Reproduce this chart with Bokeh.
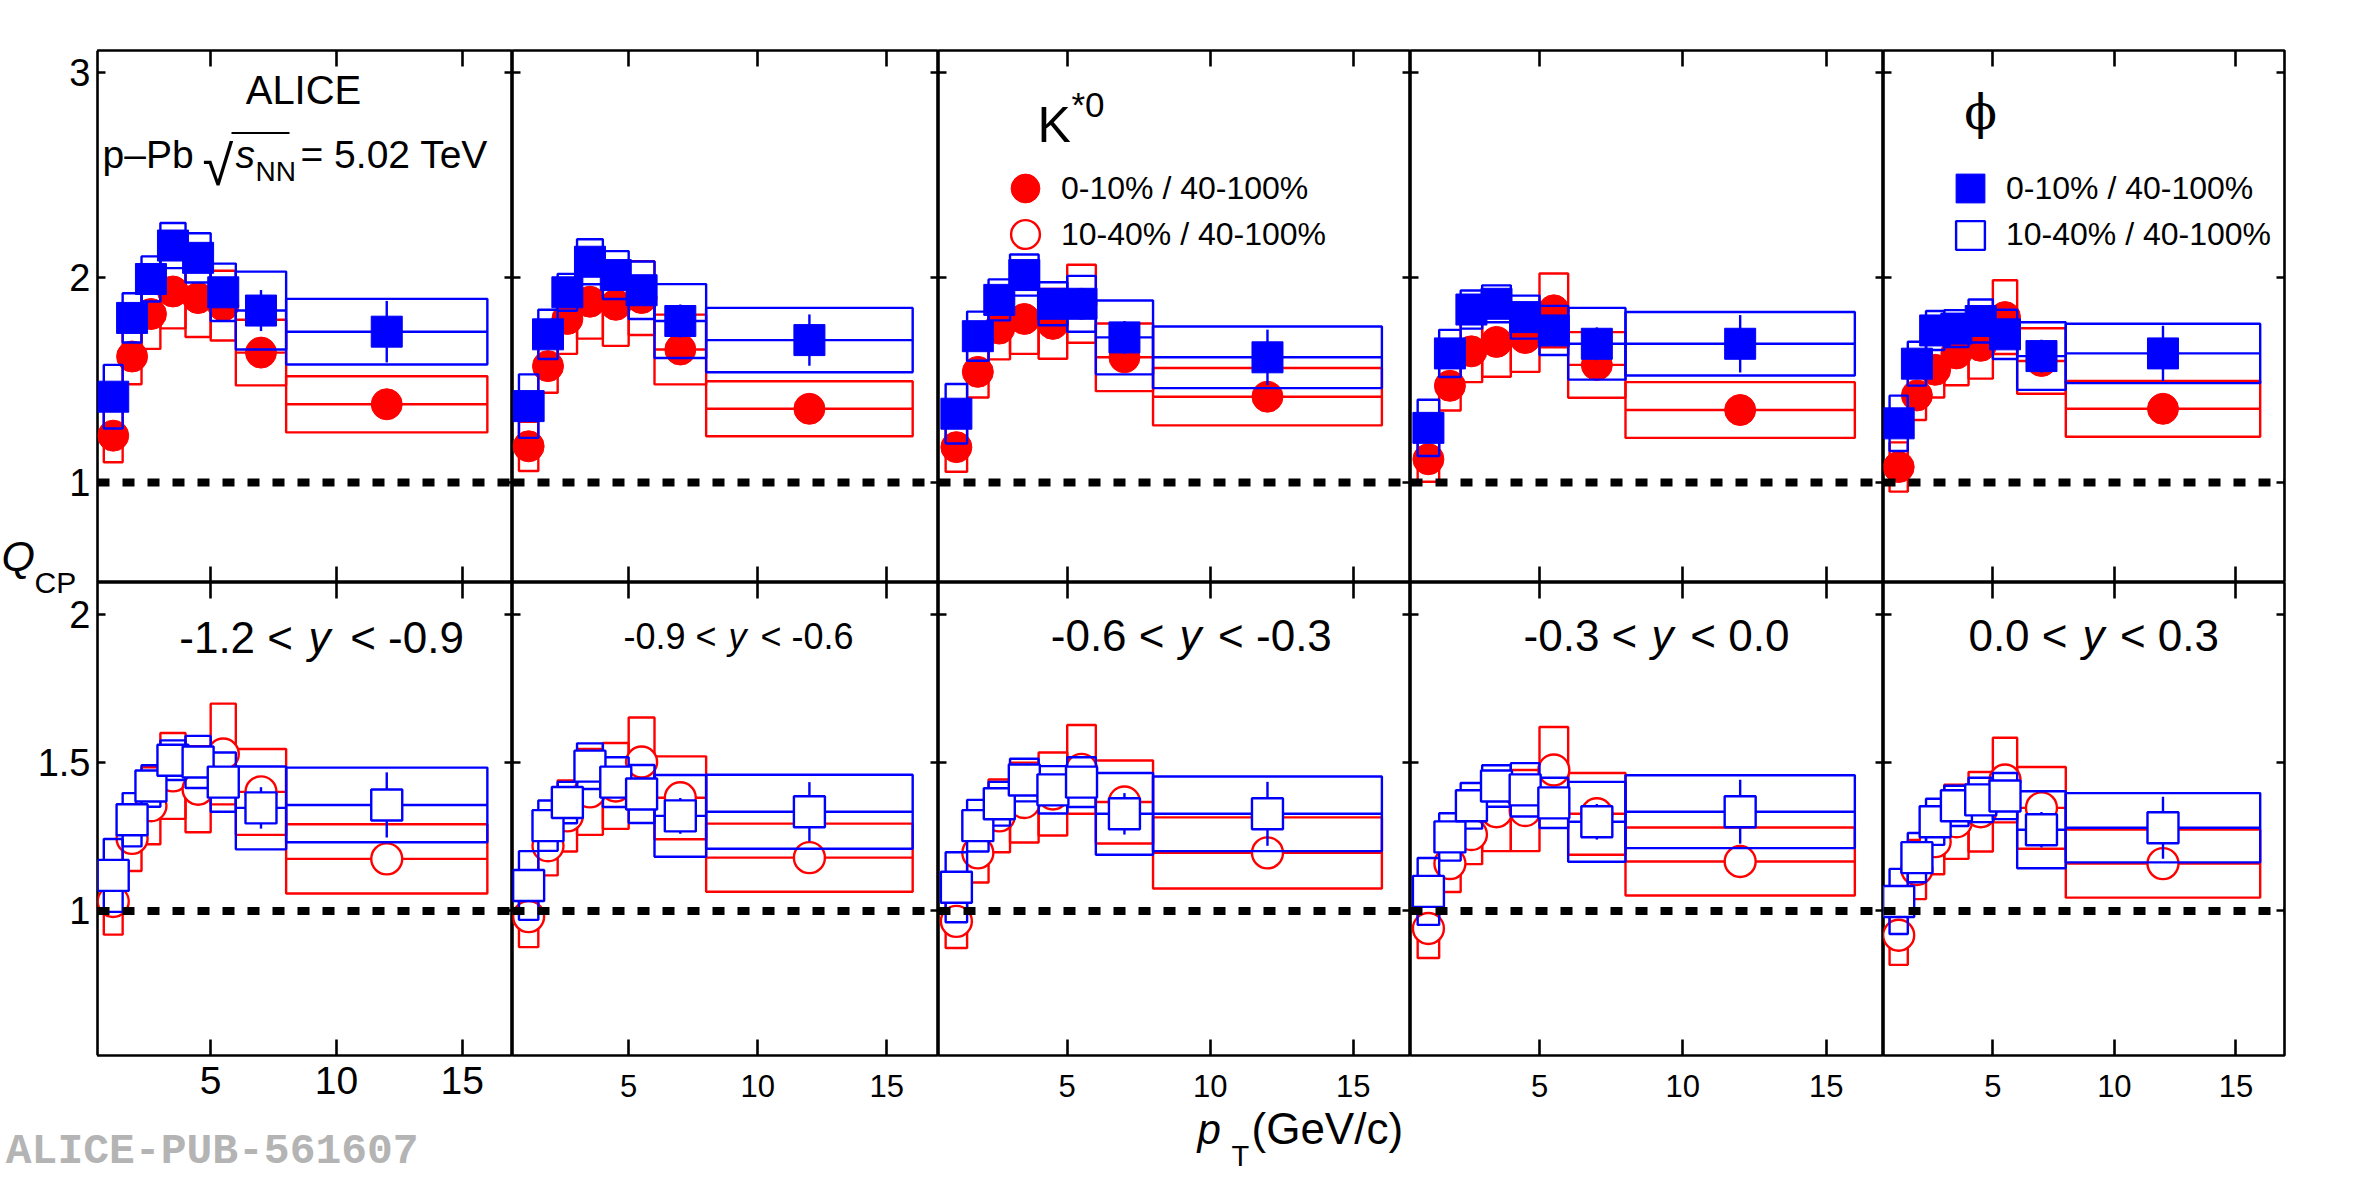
import numpy as np
from bokeh.plotting import figure
from bokeh.models import (ColumnDataSource, Range1d, LinearAxis, FixedTicker, Span, Label,
                          Legend, LegendItem, BoxAnnotation, CustomJSTickFormatter)
from bokeh.layouts import row, column
from bokeh.embed import file_html
from bokeh.resources import INLINE
from bokeh.core.properties import value

# ---------------- data ----------------
pt_center = [1.125, 1.875, 2.625, 3.5, 4.5, 5.5, 7.0, 12.0]
pt_halfwidth = [0.375, 0.375, 0.375, 0.5, 0.5, 0.5, 1.0, 4.0]

rapidity_low = ["-1.2", "-0.9", "-0.6", "-0.3", "0.0"]
rapidity_high = ["-0.9", "-0.6", "-0.3", "0.0", "0.3"]

x_ticks = [5, 10, 15]
y_ticks_top = [1, 2, 3]
y_ticks_bottom = [1, 1.5, 2]

# K*0, 0-10% / 40-100%
kstar_010_val = [
    [1.229, 1.615, 1.822, 1.932, 1.900, 1.863, 1.634, 1.382],
    [1.177, 1.568, 1.798, 1.882, 1.867, 1.900, 1.649, 1.360],
    [1.173, 1.540, 1.751, 1.798, 1.774, 1.872, 1.611, 1.419],
    [1.114, 1.472, 1.640, 1.686, 1.705, 1.840, 1.574, 1.354],
    [1.076, 1.425, 1.550, 1.630, 1.667, 1.807, 1.593, 1.360]]
kstar_010_sys = [
    [0.130, 0.135, 0.170, 0.180, 0.190, 0.170, 0.160, 0.137],
    [0.120, 0.130, 0.170, 0.180, 0.200, 0.180, 0.170, 0.134],
    [0.120, 0.125, 0.150, 0.170, 0.170, 0.190, 0.165, 0.140],
    [0.110, 0.120, 0.150, 0.170, 0.165, 0.180, 0.160, 0.136],
    [0.120, 0.120, 0.135, 0.155, 0.160, 0.180, 0.160, 0.136]]
kstar_010_stat = [
    [0.03, 0.03, 0.03, 0.03, 0.03, 0.04, 0.05, 0.06],
    [0.03, 0.03, 0.03, 0.03, 0.03, 0.04, 0.05, 0.06],
    [0.03, 0.03, 0.03, 0.03, 0.03, 0.04, 0.05, 0.06],
    [0.03, 0.03, 0.03, 0.03, 0.03, 0.04, 0.05, 0.06],
    [0.03, 0.03, 0.03, 0.03, 0.03, 0.04, 0.05, 0.06]]

# phi, 0-10% / 40-100%
phi_010_val = [
    [1.419, 1.803, 1.993, 2.156, 2.096, 1.928, 1.839, 1.736],
    [1.373, 1.723, 1.928, 2.077, 2.012, 1.938, 1.788, 1.695],
    [1.336, 1.714, 1.891, 2.012, 1.872, 1.872, 1.708, 1.611],
    [1.267, 1.630, 1.844, 1.872, 1.807, 1.742, 1.677, 1.677],
    [1.289, 1.580, 1.742, 1.751, 1.788, 1.723, 1.617, 1.630]]
phi_010_sys = [
    [0.155, 0.120, 0.110, 0.110, 0.120, 0.140, 0.190, 0.160],
    [0.155, 0.120, 0.090, 0.110, 0.117, 0.140, 0.180, 0.157],
    [0.145, 0.120, 0.100, 0.100, 0.105, 0.136, 0.180, 0.150],
    [0.137, 0.115, 0.093, 0.090, 0.105, 0.120, 0.175, 0.155],
    [0.135, 0.107, 0.095, 0.090, 0.105, 0.120, 0.165, 0.145]]
phi_010_stat = [
    [0.04, 0.03, 0.03, 0.03, 0.04, 0.05, 0.10, 0.150],
    [0.04, 0.03, 0.03, 0.03, 0.04, 0.05, 0.08, 0.125],
    [0.04, 0.03, 0.03, 0.03, 0.04, 0.05, 0.08, 0.135],
    [0.04, 0.03, 0.03, 0.03, 0.04, 0.05, 0.08, 0.140],
    [0.04, 0.03, 0.03, 0.03, 0.04, 0.05, 0.08, 0.135]]

# K*0, 10-40% / 40-100%
kstar_1040_val = [
    [1.032, 1.245, 1.355, 1.456, 1.411, 1.530, 1.402, 1.176],
    [0.981, 1.220, 1.321, 1.402, 1.422, 1.503, 1.382, 1.180],
    [0.965, 1.196, 1.321, 1.366, 1.395, 1.478, 1.368, 1.196],
    [0.941, 1.160, 1.258, 1.335, 1.339, 1.476, 1.328, 1.167],
    [0.918, 1.140, 1.234, 1.301, 1.335, 1.442, 1.348, 1.160]]
kstar_1040_sys = [
    [0.112, 0.110, 0.130, 0.145, 0.145, 0.170, 0.145, 0.117],
    [0.103, 0.100, 0.120, 0.145, 0.145, 0.150, 0.140, 0.115],
    [0.090, 0.100, 0.123, 0.135, 0.140, 0.150, 0.140, 0.120],
    [0.100, 0.096, 0.100, 0.133, 0.137, 0.145, 0.138, 0.115],
    [0.100, 0.100, 0.110, 0.125, 0.134, 0.143, 0.138, 0.115]]
kstar_1040_stat = [
    [0.02, 0.02, 0.02, 0.02, 0.025, 0.03, 0.04, 0.05],
    [0.02, 0.02, 0.02, 0.02, 0.025, 0.03, 0.04, 0.05],
    [0.02, 0.02, 0.02, 0.02, 0.025, 0.03, 0.04, 0.05],
    [0.02, 0.02, 0.02, 0.02, 0.025, 0.03, 0.04, 0.05],
    [0.02, 0.02, 0.02, 0.02, 0.025, 0.03, 0.04, 0.05]]

# phi, 10-40% / 40-100%
phi_1040_val = [
    [1.120, 1.308, 1.422, 1.509, 1.503, 1.435, 1.348, 1.358],
    [1.086, 1.288, 1.366, 1.489, 1.435, 1.395, 1.321, 1.335],
    [1.080, 1.288, 1.362, 1.442, 1.409, 1.435, 1.328, 1.328],
    [1.066, 1.250, 1.355, 1.422, 1.409, 1.365, 1.301, 1.335],
    [1.032, 1.180, 1.301, 1.355, 1.375, 1.388, 1.274, 1.281]]
phi_1040_sys = [
    [0.123, 0.090, 0.070, 0.067, 0.088, 0.100, 0.140, 0.126],
    [0.116, 0.085, 0.070, 0.077, 0.084, 0.098, 0.138, 0.125],
    [0.118, 0.087, 0.074, 0.072, 0.080, 0.084, 0.138, 0.126],
    [0.113, 0.080, 0.077, 0.070, 0.090, 0.085, 0.135, 0.123],
    [0.110, 0.083, 0.078, 0.068, 0.075, 0.078, 0.130, 0.117]]
phi_1040_stat = [
    [0.03, 0.025, 0.025, 0.03, 0.035, 0.045, 0.07, 0.110],
    [0.03, 0.025, 0.025, 0.03, 0.035, 0.045, 0.06, 0.100],
    [0.03, 0.025, 0.025, 0.03, 0.035, 0.045, 0.07, 0.108],
    [0.03, 0.025, 0.025, 0.03, 0.035, 0.045, 0.06, 0.108],
    [0.03, 0.025, 0.025, 0.03, 0.035, 0.045, 0.06, 0.105]]

# ---------------- geometry / style ----------------
FRAME_W = [415, 426, 472, 473, 401]
FRAME_H = [532, 473]
CARRIER_W = 97          # left strip holding the y tick labels and the Q_CP title
BORDER_R, BORDER_T, BORDER_B = 50, 50, 5
FOOT_H = 106            # strip under the panels: x tick labels, x title, tag
PAGE = 8
X_RANGE = (0.5, 17.0)
Y_RANGES = [(0.513, 3.107), (0.512, 2.109)]
RED = "#ff0000"
BLUE = "#0000ff"
FONT = "Liberation Sans"
LW = 2.4
MSIZE = 31
LEG_G = 72
TOTAL_W = CARRIER_W + sum(FRAME_W) + BORDER_R
# distance (in em) from the alphabetic baseline up to the middle of the em box
MID_K = {"Liberation Sans": 0.3465, "Liberation Mono": 0.2665, "DejaVu Serif": 0.346}


def col_left(c):
    return PAGE + CARRIER_W + sum(FRAME_W[:c])


def row_top(r):
    return PAGE + BORDER_T + sum(FRAME_H[:r])


def value_at(r, Y):
    y0, y1 = Y_RANGES[r]
    return y1 - (Y - row_top(r)) / FRAME_H[r] * (y1 - y0)


def xvalue_at(c, X):
    x0, x1 = X_RANGE
    return x0 + (X - col_left(c)) / FRAME_W[c] * (x1 - x0)


def mid_of(base, size, font):
    return base - MID_K[font] * size


def make_label(xd, yd, text, size, font=FONT, style="normal", align="left", color="black"):
    return Label(x=xd, y=yd, text=text, text_font=font, text_font_size=f"{size}px",
                 text_font_style=style, text_align=align, text_baseline="middle",
                 text_color=color)


def add_text(p, r, c, X, base, text, size, font=FONT, mid=None, **kw):
    ym = mid if mid is not None else mid_of(base, size, font)
    p.add_layout(make_label(xvalue_at(c, X), value_at(r, ym), text, size, font=font, **kw))


def add_page_text(p, X, base, text, size, font=FONT, **kw):
    p.add_layout(make_label(X, mid_of(base, size, font), text, size, font=font, **kw))


def tick_axis(ticks, fixed, tick_len):
    ax = LinearAxis(ticker=FixedTicker(ticks=ticks, minor_ticks=[]), fixed_location=fixed,
                    formatter=CustomJSTickFormatter(code="return ''"))
    ax.axis_line_color = None
    ax.major_tick_in = tick_len
    ax.major_tick_out = 0
    ax.minor_tick_in = 0
    ax.minor_tick_out = 0
    ax.major_tick_line_color = "black"
    ax.major_tick_line_width = 2.6
    ax.major_label_standoff = 0
    return ax


def label_axis(ticks, fixed, size, standoff, **kw):
    ax = LinearAxis(ticker=FixedTicker(ticks=ticks, minor_ticks=[]), fixed_location=fixed,
                    formatter=CustomJSTickFormatter(code="return tick.toString()"), **kw)
    ax.axis_line_color = None
    ax.major_tick_in = 0
    ax.major_tick_out = 0
    ax.minor_tick_in = 0
    ax.minor_tick_out = 0
    ax.major_label_standoff = standoff
    ax.major_label_text_font = FONT
    ax.major_label_text_font_size = f"{size}px"
    ax.major_label_text_color = "black"
    return ax


def series_source(val, sys, stat):
    x = np.array(pt_center)
    hw = np.array(pt_halfwidth)
    y = np.array(val)
    s = np.array(sys)
    st = np.array(stat)
    return ColumnDataSource(dict(x=x, y=y, left=x - hw, right=x + hw, bottom=y - s,
                                 top=y + s, lo=y - st, hi=y + st))


def draw_series(p, val, sys, stat, color, marker, filled):
    src = series_source(val, sys, stat)
    p.quad(left="left", right="right", bottom="bottom", top="top", source=src,
           fill_color=None, line_color=color, line_width=LW)
    p.segment(x0="left", y0="y", x1="right", y1="y", source=src, line_color=color, line_width=LW)
    p.segment(x0="x", y0="lo", x1="x", y1="hi", source=src, line_color=color, line_width=LW)
    r = p.scatter(x="x", y="y", source=src, marker=marker, size=MSIZE,
                  fill_color=color if filled else "white", line_color=color,
                  line_width=1 if filled else LW)
    return r


def add_legend(p, renderer, label, cx, cy, c):
    g = LEG_G
    rel_x = cx - g / 2 - col_left(c)
    rel_y = row_top(1) - (cy + g / 2)
    lg = Legend(items=[LegendItem(label=value(label), renderers=[renderer])],
                location=(rel_x, rel_y), glyph_width=g, glyph_height=g,
                padding=0, margin=0, spacing=0, label_standoff=0, border_line_color=None,
                background_fill_alpha=0, label_text_font=FONT, label_text_color="black",
                label_text_font_size="32px", label_height=g)
    p.add_layout(lg)


# ---------------- panels ----------------
figs = [[None] * 5 for _ in range(2)]
for r in range(2):
    for c in range(5):
        p = figure(frame_width=FRAME_W[c], frame_height=FRAME_H[r],
                   x_range=Range1d(*X_RANGE), y_range=Range1d(*Y_RANGES[r]),
                   x_axis_type=None, y_axis_type=None,
                   output_backend="svg", toolbar_location=None,
                   min_border_left=0,
                   min_border_right=BORDER_R if c == 4 else 0,
                   min_border_top=BORDER_T if r == 0 else 0,
                   min_border_bottom=BORDER_B if r == 1 else 0)
        p.background_fill_color = "white"
        p.border_fill_color = "white"
        p.outline_line_color = "black"
        p.outline_line_width = 2.6

        yt = y_ticks_top if r == 0 else y_ticks_bottom
        p.add_layout(tick_axis(x_ticks, Y_RANGES[r][1], 16), "above")
        p.add_layout(tick_axis(x_ticks, Y_RANGES[r][0], 16), "below")
        p.add_layout(tick_axis(yt, X_RANGE[0], 8), "left")
        p.add_layout(tick_axis(yt, X_RANGE[1], 8), "right")

        if r == 0:
            rk = draw_series(p, kstar_010_val[c], kstar_010_sys[c], kstar_010_stat[c], RED, "circle", True)
            rp = draw_series(p, phi_010_val[c], phi_010_sys[c], phi_010_stat[c], BLUE, "square", True)
        else:
            rk = draw_series(p, kstar_1040_val[c], kstar_1040_sys[c], kstar_1040_stat[c], RED, "circle", False)
            rp = draw_series(p, phi_1040_val[c], phi_1040_sys[c], phi_1040_stat[c], BLUE, "square", False)

        p.add_layout(Span(location=1.0, dimension="width", line_color="black",
                          line_width=8, line_dash="12 13"))
        figs[r][c] = p

        if r == 0 and c == 2:
            # legend swatch for the open-circle series (its points belong to the lower row)
            src_o = series_source(kstar_1040_val[c], kstar_1040_sys[c], kstar_1040_stat[c])
            ro = p.scatter(x="x", y="y", source=src_o, marker="circle", size=MSIZE,
                           fill_color="white", line_color=RED, line_width=LW, visible=False)
            add_legend(p, rk, "0-10% / 40-100%", 1033, 196, c)
            add_legend(p, ro, "10-40% / 40-100%", 1033, 242, c)
        if r == 0 and c == 4:
            src_b = series_source(phi_1040_val[c], phi_1040_sys[c], phi_1040_stat[c])
            bo = p.scatter(x="x", y="y", source=src_b, marker="square", size=MSIZE,
                           fill_color="white", line_color=BLUE, line_width=LW, visible=False)
            add_legend(p, rp, "0-10% / 40-100%", 1978, 196, c)
            add_legend(p, bo, "10-40% / 40-100%", 1978, 242.6, c)

# ---------------- texts inside panels ----------------
p = figs[0][0]
add_text(p, 0, 0, 311, 111.3, "ALICE", 40, align="center")
add_text(p, 0, 0, 110, 176, "p\u2013Pb", 39)
add_text(p, 0, 0, 210, None, "\u221a", 56, mid=173)
l, t = xvalue_at(0, 239), value_at(0, 139.6)
rr, b = xvalue_at(0, 297), value_at(0, 141.4)
p.add_layout(BoxAnnotation(left=l, right=rr, top=t, bottom=b, fill_color="black",
                           fill_alpha=1.0, line_color=None))
add_text(p, 0, 0, 243, 176, "s", 39, style="italic")
add_text(p, 0, 0, 263, 189, "NN", 28)
add_text(p, 0, 0, 308, 176, "= 5.02 TeV", 39)

p = figs[0][2]
add_text(p, 0, 2, 1045, 149.5, "K", 50)
add_text(p, 0, 2, 1079, 124.5, "*0", 35)

p = figs[0][4]
add_text(p, 0, 4, 1988, 136.5, "\u03d5", 48, font="DejaVu Serif", align="center")

# rapidity labels: (right edge of first part, centre of y, left of last part, baseline, size)
rap_pos = [(300.5, 327, 357.7, 660.3, 44),
           (724, 745, 768, 656.4, 36),
           (1172, 1198, 1225.6, 658.3, 44),
           (1644.8, 1670, 1697.8, 658.3, 44),
           (2075, 2101, 2127.4, 658.3, 44)]
for c in range(5):
    p = figs[1][c]
    xa, xy, xb, base, fs = rap_pos[c]
    add_text(p, 1, c, xa, base, f"{rapidity_low[c]} <", fs, align="right")
    add_text(p, 1, c, xy, base, "y", fs, style="italic", align="center")
    add_text(p, 1, c, xb, base, f"< {rapidity_high[c]}", fs)

# ---------------- left strip: y tick labels + Q_CP ----------------
y_frame_top = row_top(0)
y_frame_bot = row_top(1) + FRAME_H[1]
carrier = figure(frame_width=CARRIER_W, frame_height=sum(FRAME_H),
                 x_range=Range1d(PAGE, PAGE + CARRIER_W),
                 y_range=Range1d(y_frame_bot, y_frame_top),
                 x_axis_type=None, y_axis_type=None, output_backend="svg",
                 toolbar_location=None, min_border_left=0, min_border_right=0,
                 min_border_top=BORDER_T, min_border_bottom=BORDER_B)
carrier.outline_line_color = None
carrier.background_fill_color = "white"
carrier.border_fill_color = "white"
carrier.extra_y_ranges = {
    "top": Range1d(value_at(0, y_frame_bot), value_at(0, y_frame_top)),
    "bottom": Range1d(value_at(1, y_frame_bot), value_at(1, y_frame_top)),
}
for name, ticks in (("top", y_ticks_top), ("bottom", y_ticks_bottom)):
    carrier.add_layout(label_axis(ticks, PAGE + CARRIER_W, 38, 7, y_range_name=name), "left")
carrier.add_layout(Span(location=PAGE + CARRIER_W, dimension="height",
                        line_color="black", line_width=2.6))
add_page_text(carrier, 9, 578, "Q", 43, style="italic")
add_page_text(carrier, 42, 600, "CP", 30)

# ---------------- bottom strip: x tick labels, x title, tag ----------------
foot_top = y_frame_bot + BORDER_B
footer = figure(frame_width=TOTAL_W, frame_height=FOOT_H,
                x_range=Range1d(PAGE, PAGE + TOTAL_W),
                y_range=Range1d(foot_top + FOOT_H, foot_top),
                x_axis_type=None, y_axis_type=None, output_backend="svg",
                toolbar_location=None, min_border_left=0, min_border_right=0,
                min_border_top=0, min_border_bottom=0)
footer.outline_line_color = None
footer.background_fill_color = "white"
footer.border_fill_color = "white"
footer.extra_x_ranges = {f"col{c}": Range1d(xvalue_at(c, PAGE), xvalue_at(c, PAGE + TOTAL_W))
                         for c in range(5)}
for c in range(5):
    footer.add_layout(label_axis(x_ticks, foot_top, 39 if c == 0 else 31,
                                 6 if c == 0 else 14, x_range_name=f"col{c}"), "below")
add_page_text(footer, 13.3, 1170, "ALICE-PUB-561607", 43, font="Liberation Mono",
              style="bold", color="#b4b4b4")
add_page_text(footer, 1205, 1151.7, "p", 42, style="italic")
add_page_text(footer, 1239, 1173.5, "T", 29)
add_page_text(footer, 1259, 1151.7, "(GeV/c)", 44)

layout = column(row(carrier, column(row(*figs[0]), row(*figs[1]))), footer)
open("out.html", "w").write(file_html(layout, INLINE))
